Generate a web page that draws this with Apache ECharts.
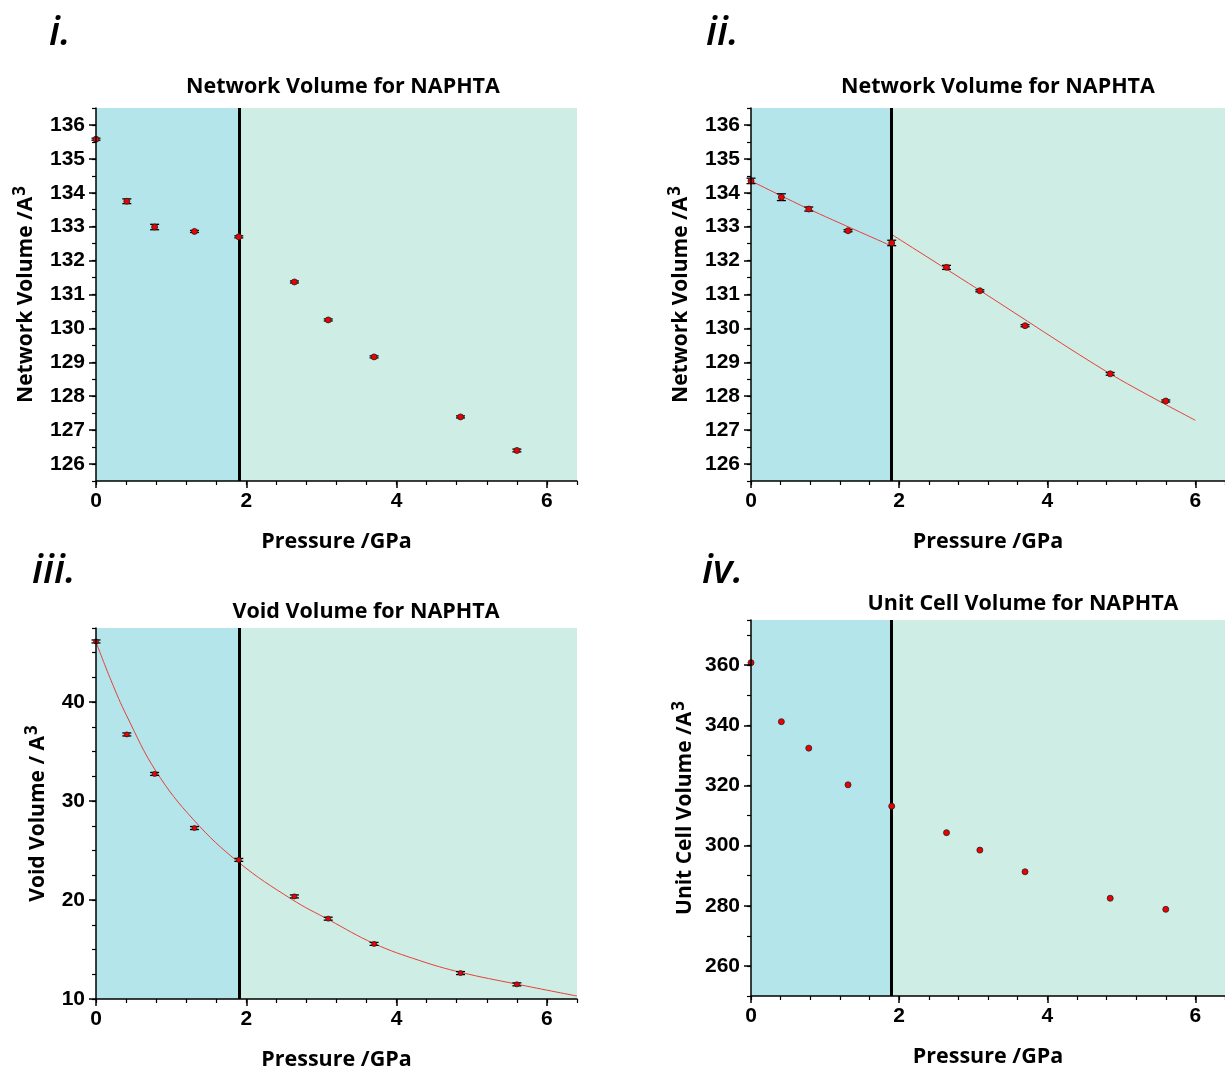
<!DOCTYPE html>
<html>
<head>
<meta charset="utf-8">
<script src="https://cdn.jsdelivr.net/npm/echarts@6/dist/echarts.min.js"></script>
<style>
html, body { margin: 0; padding: 0; background: #fff; }
#chart { width: 1225px; height: 1072px; }
</style>
</head>
<body>
<div id="chart"></div>
<script>
// Pressure points (GPa), shared by all four panels
const pressure = [0, 0.41, 0.78, 1.31, 1.9, 2.64, 3.09, 3.70, 4.85, 5.60];

// i. network volume (A^3) with error
const networkVolA = [135.58, 133.75, 132.99, 132.86, 132.70, 131.37, 130.25, 129.16, 127.39, 126.40];
const networkErrA = [0.03, 0.07, 0.08, 0.03, 0.03, 0.03, 0.03, 0.03, 0.03, 0.04];

// ii. network volume (A^3) with error, plus the two fitted branches
const networkVolB = [134.35, 133.87, 133.52, 132.88, 132.52, 131.80, 131.11, 130.08, 128.66, 127.86];
const networkErrB = [0.08, 0.10, 0.06, 0.03, 0.08, 0.06, 0.03, 0.03, 0.04, 0.03];
const fitLowP = [0, 0.78, 1.9];
const fitLowV = [134.35, 133.52, 132.43];
const fitHighP = [1.9, 3.09, 4.85, 6.0];
const fitHighV = [132.77, 131.12, 128.66, 127.29];

// iii. void volume (A^3) with error, plus fitted curve
const voidVol = [46.14, 36.74, 32.75, 27.28, 24.06, 20.37, 18.12, 15.57, 12.62, 11.48];
const voidErr = [0.15, 0.15, 0.15, 0.15, 0.15, 0.15, 0.15, 0.15, 0.15, 0.15];
const voidFitP = [0, 0.2, 0.41, 0.8, 1.3, 1.9, 2.6, 3.1, 3.7, 4.3, 4.85, 5.6, 6.4];
const voidFitV = [46.1, 42.2, 38.6, 33.0, 28.1, 23.8, 20.1, 18.0, 15.6, 13.9, 12.7, 11.5, 10.3];

// iv. unit cell volume (A^3)
const cellVol = [360.8, 341.2, 332.4, 320.2, 313.1, 304.3, 298.5, 291.3, 282.5, 278.8];

// phase boundary and tick values
const transitionP = 1.9;
const pressureMax = 6.4;
const pressureTicks = [0, 2, 4, 6];
const networkTicks = [126, 127, 128, 129, 130, 131, 132, 133, 134, 135, 136];
const voidTicks = [10, 20, 30, 40];
const cellTicks = [260, 280, 300, 320, 340, 360];

const titles = ['Network Volume for NAPHTA', 'Network Volume for NAPHTA', 'Void Volume for NAPHTA', 'Unit Cell Volume for NAPHTA'];
const panelTags = ['i.', 'ii.', 'iii.', 'iv.'];

const chart = echarts.init(document.getElementById('chart'), null, { renderer: 'canvas' });

const AXIS_FONT = 'Liberation Sans';
const NAME_FONT = 'Open Sans';
const shadeLow = '#b3e5eb';
const shadeHigh = '#cdede5';

const grids = [
  { left: 96, top: 108, width: 481, height: 373 },
  { left: 751, top: 108, width: 481, height: 373 },
  { left: 96, top: 628, width: 481, height: 372 },
  { left: 751, top: 620, width: 481, height: 376 }
];

const yConf = [
  { min: 125.5, max: 136.5, step: 0.5, ticks: networkTicks, name: 'Network Volume /A{s|3}', gap: 55 },
  { min: 125.5, max: 136.5, step: 0.5, ticks: networkTicks, name: 'Network Volume /A{s|3}', gap: 55 },
  { min: 10, max: 47.5, step: 2.5, ticks: voidTicks, name: 'Void Volume / A{s|3}', gap: 43 },
  { min: 250, max: 375, step: 10, ticks: cellTicks, name: 'Unit Cell Volume /A{s|3}', gap: 51 }
];

const xAxes = [];
const yAxes = [];
grids.forEach((g, i) => {
  // main axis: line, long ticks, labels
  xAxes.push({
    type: 'value', gridIndex: i, min: 0, max: pressureMax, interval: 0.4, position: 'bottom', z: 10,
    name: 'Pressure /GPa', nameLocation: 'middle', nameGap: 50,
    nameTextStyle: { fontFamily: NAME_FONT, fontWeight: 'bold', fontSize: 21.5, color: '#000' },
    axisLine: { show: true, onZero: false, lineStyle: { color: '#000', width: 1.5 } },
    axisTick: { show: true, customValues: pressureTicks, length: 7, lineStyle: { color: '#000', width: 1.5 } },
    axisLabel: { show: true, customValues: pressureTicks, margin: 10, fontFamily: AXIS_FONT, fontWeight: 'bold', fontSize: 21, color: '#000' },
    splitLine: { show: false }
  });
  // companion axis: short ticks only
  xAxes.push({
    type: 'value', gridIndex: i, min: 0, max: pressureMax, interval: 0.4, position: 'bottom', offset: 0, z: 10,
    axisLine: { show: false, onZero: false },
    axisTick: { show: true, length: 4, lineStyle: { color: '#000', width: 1.2 } },
    axisLabel: { show: false },
    splitLine: { show: false }
  });
  const c = yConf[i];
  yAxes.push({
    type: 'value', gridIndex: i, min: c.min, max: c.max, interval: c.step, position: 'left', z: 10,
    name: c.name, nameLocation: 'middle', nameGap: c.gap,
    nameTextStyle: {
      fontFamily: NAME_FONT, fontWeight: 'bold', fontSize: 21, color: '#000',
      rich: { s: { fontFamily: NAME_FONT, fontWeight: 'bold', fontSize: 17, color: '#000', padding: [0, 0, 12, 1] } }
    },
    axisLine: { show: true, onZero: false, lineStyle: { color: '#000', width: 1.5 } },
    axisTick: { show: true, customValues: c.ticks, length: 7, lineStyle: { color: '#000', width: 1.5 } },
    axisLabel: { show: true, customValues: c.ticks, margin: 11, fontFamily: AXIS_FONT, fontWeight: 'bold', fontSize: 21, color: '#000' },
    splitLine: { show: false }
  });
  yAxes.push({
    type: 'value', gridIndex: i, min: c.min, max: c.max, interval: c.step, position: 'left', offset: 0, z: 10,
    axisLine: { show: false, onZero: false },
    axisTick: { show: true, length: 4, lineStyle: { color: '#000', width: 1.2 } },
    axisLabel: { show: false },
    splitLine: { show: false }
  });
});

function zip(xs, ys, es) {
  return xs.map((x, k) => es ? [x, ys[k], es[k]] : [x, ys[k]]);
}

function backdrop(i) {
  return {
    type: 'line', xAxisIndex: 2 * i, yAxisIndex: 2 * i, data: [], silent: true, z: 1,
    markArea: {
      silent: true,
      data: [
        [{ xAxis: 0, itemStyle: { color: shadeLow } }, { xAxis: transitionP }],
        [{ xAxis: transitionP, itemStyle: { color: shadeHigh } }, { xAxis: pressureMax }]
      ]
    },
    markLine: {
      silent: true, symbol: 'none', animation: false,
      label: { show: false },
      lineStyle: { color: '#000', width: 3, type: 'solid' },
      data: [{ xAxis: transitionP }]
    }
  };
}

function errorBars(i, data) {
  return {
    type: 'custom', xAxisIndex: 2 * i, yAxisIndex: 2 * i, z: 4, data: data, silent: true,
    renderItem: function (params, api) {
      const x = api.value(0), y = api.value(1), e = api.value(2);
      const hi = api.coord([x, y + e]);
      const lo = api.coord([x, y - e]);
      const hw = 4.5;
      const st = { stroke: '#000', lineWidth: 1.3 };
      return {
        type: 'group',
        children: [
          { type: 'line', shape: { x1: hi[0], y1: hi[1], x2: lo[0], y2: lo[1] }, style: st },
          { type: 'line', shape: { x1: hi[0] - hw, y1: hi[1], x2: hi[0] + hw, y2: hi[1] }, style: st },
          { type: 'line', shape: { x1: lo[0] - hw, y1: lo[1], x2: lo[0] + hw, y2: lo[1] }, style: st }
        ]
      };
    }
  };
}

function points(i, data, size) {
  return {
    type: 'scatter', xAxisIndex: 2 * i, yAxisIndex: 2 * i, z: 5, data: data, silent: true,
    symbol: 'circle', symbolSize: size,
    itemStyle: { color: '#ee0000', borderColor: '#222', borderWidth: 0.8, opacity: 1 }
  };
}

function fitLine(i, data, smooth) {
  return {
    type: 'line', xAxisIndex: 2 * i, yAxisIndex: 2 * i, z: 3, data: data, silent: true,
    smooth: smooth, showSymbol: false, symbol: 'none',
    lineStyle: { color: '#e8403a', width: 1 }
  };
}

const series = [
  backdrop(0), backdrop(1), backdrop(2), backdrop(3),
  errorBars(0, zip(pressure, networkVolA, networkErrA)),
  points(0, zip(pressure, networkVolA), 6),
  fitLine(1, zip(fitLowP, fitLowV), 0.3),
  fitLine(1, zip(fitHighP, fitHighV), 0.3),
  errorBars(1, zip(pressure, networkVolB, networkErrB)),
  points(1, zip(pressure, networkVolB), 6),
  fitLine(2, zip(voidFitP, voidFitV), 0.4),
  errorBars(2, zip(pressure, voidVol, voidErr)),
  points(2, zip(pressure, voidVol), 5),
  points(3, zip(pressure, cellVol), 6)
];

function label(text, x, y, style) {
  return { type: 'text', x: x, y: y, z: 20, style: Object.assign({ text: text, fill: '#000' }, style) };
}

const titleStyle = { font: 'bold 21.5px "Open Sans"', textAlign: 'center', textVerticalAlign: 'middle' };
const tagStyle = { font: 'italic 600 40px "Open Sans"', textAlign: 'left', textVerticalAlign: 'middle' };

const graphic = [
  label(titles[0], 343, 87, titleStyle),
  label(titles[1], 998, 87, titleStyle),
  label(titles[2], 366, 612, titleStyle),
  label(titles[3], 1023, 604, titleStyle),
  label(panelTags[0], 49, 34, tagStyle),
  label(panelTags[1], 706, 34, tagStyle),
  label(panelTags[2], 32, 572, tagStyle),
  label(panelTags[3], 702, 572, tagStyle)
];

chart.setOption({
  animation: false,
  backgroundColor: '#ffffff',
  grid: grids.map(g => Object.assign({ containLabel: false }, g)),
  xAxis: xAxes,
  yAxis: yAxes,
  series: series,
  graphic: graphic
});
</script>
</body>
</html>
